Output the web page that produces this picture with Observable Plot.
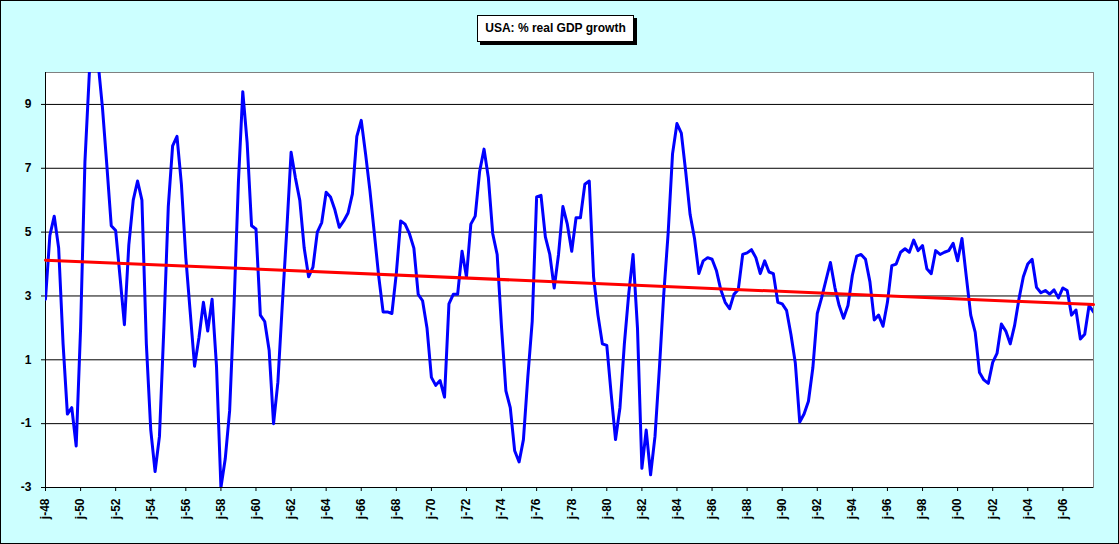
<!DOCTYPE html>
<html><head><meta charset="utf-8">
<script src="https://cdn.jsdelivr.net/npm/d3@7"></script>
<script src="https://cdn.jsdelivr.net/npm/@observablehq/plot@0.6"></script>
<style>
html,body{margin:0;padding:0;background:#CCFFFF;}
#wrap{position:relative;width:1119px;height:544px;overflow:hidden;}
#title{position:absolute;left:477px;top:15px;width:157px;height:27px;box-sizing:border-box;border:1px solid #000;background:#fff;box-shadow:3px 3px 0 #000;font:bold 12px "Liberation Sans",Arial,sans-serif;line-height:25px;text-align:center;white-space:nowrap;}
#frame{position:absolute;left:0;top:0;width:1119px;height:544px;box-sizing:border-box;border:1px solid #000;pointer-events:none;}
svg{display:block;}
</style></head>
<body><div id="wrap"><div id="chart"></div><div id="title">USA: % real GDP growth</div><div id="frame"></div></div>
<script>
// Quarterly series, first value is 1948 Q1
const startYear = 1948;
const growth = [
  2.9, 4.9, 5.5, 4.5, 1.5, -0.7, -0.5, -1.7,            // 1948-49
  2.0, 7.2, 9.95, 12.0, 10.3, 8.9, 7.1, 5.2,            // 1950-51
  5.05, 3.6, 2.1, 4.6, 6.0, 6.6, 6.0, 1.5,              // 1952-53
  -1.2, -2.5, -1.4, 2.0, 5.8, 7.7, 8.0, 6.5,            // 1954-55
  4.2, 2.5, 0.8, 1.7, 2.8, 1.9, 2.9, 0.8,               // 1956-57
  -3.0, -2.1, -0.6, 2.7, 6.6, 9.4, 7.8, 5.2,            // 1958-59
  5.1, 2.4, 2.2, 1.3, -1.0, 0.3, 2.7, 5.0,              // 1960-61
  7.5, 6.7, 6.0, 4.5, 3.6, 3.9, 5.0, 5.3,               // 1962-63
  6.25, 6.1, 5.7, 5.15, 5.35, 5.6, 6.2, 8.0,            // 1964-65
  8.5, 7.45, 6.3, 4.95, 3.6, 2.5, 2.5, 2.45,            // 1966-67
  3.7, 5.35, 5.25, 4.95, 4.5, 3.05, 2.85, 2.0,          // 1968-69
  0.45, 0.2, 0.35, -0.17, 2.75, 3.05, 3.05, 4.4,        // 1970-71
  3.6, 5.25, 5.5, 6.9, 7.6, 6.7, 4.95, 4.3,             // 1972-73
  2.0, 0.03, -0.5, -1.85, -2.2, -1.5, 0.45, 2.2,        // 1974-75
  6.1, 6.15, 4.85, 4.3, 3.25, 4.3, 5.8, 5.25,           // 1976-77
  4.4, 5.45, 5.45, 6.5, 6.6, 3.6, 2.4, 1.5,             // 1978-79
  1.45, -0.07, -1.5, -0.5, 1.5, 3.05, 4.3, 2.0,         // 1980-81
  -2.4, -1.2, -2.6, -1.4, 0.75, 3.05, 4.95, 7.45,       // 1982-83
  8.4, 8.1, 6.9, 5.55, 4.8, 3.7, 4.1, 4.2,              // 1984-85
  4.15, 3.8, 3.2, 2.8, 2.6, 3.05, 3.2, 4.3,             // 1986-87
  4.35, 4.45, 4.2, 3.7, 4.1, 3.75, 3.7, 2.8,            // 1988-89
  2.75, 2.55, 1.8, 0.9, -0.95, -0.7, -0.3, 0.75,        // 1990-91
  2.45, 2.95, 3.5, 4.05, 3.27, 2.7, 2.3, 2.7,           // 1992-93
  3.65, 4.25, 4.3, 4.15, 3.45, 2.25, 2.4, 2.05,         // 1994-95
  2.8, 3.95, 4.0, 4.37, 4.48, 4.37, 4.75, 4.42,         // 1996-97
  4.58, 3.85, 3.7, 4.42, 4.3, 4.37, 4.42, 4.65,         // 1998-99
  4.1, 4.8, 3.6, 2.4, 1.87, 0.6, 0.37, 0.26,            // 2000-01
  0.92, 1.2, 2.12, 1.9, 1.5, 2.07, 2.9, 3.6,            // 2002-03
  4.0, 4.15, 3.27, 3.1, 3.17, 3.06, 3.19, 2.94,         // 2004-05
  3.25, 3.17, 2.4, 2.56, 1.65, 1.8, 2.7, 2.5            // 2006-07
];
// linear trend, value at first and last quarter
const trendValues = [4.12, 2.73];
const yTicks = [-3, -1, 1, 3, 5, 7, 9];
const tickYears = [1948,1950,1952,1954,1956,1958,1960,1962,1964,1966,1968,1970,1972,1974,1976,1978,
  1980,1982,1984,1986,1988,1990,1992,1994,1996,1998,2000,2002,2004,2006];

const data = growth.map((v, i) => ({date: new Date(Date.UTC(startYear, 3 * i, 1)), value: v}));
const x0 = data[0].date, x1 = data[data.length - 1].date;
const trend = [{date: x0, value: trendValues[0]}, {date: x1, value: trendValues[1]}];
const tickDates = tickYears.map(y => new Date(Date.UTC(y, 0, 1)));

const plot = Plot.plot({
  width: 1119, height: 544,
  marginLeft: 45, marginRight: 26, marginTop: 72, marginBottom: 57,
  style: {background: "#CCFFFF", fontFamily: '"Liberation Sans", Arial, sans-serif', fontSize: "12px", fontWeight: "bold", color: "#000"},
  x: {type: "utc", domain: [x0, x1]},
  y: {domain: [-3, 10]},
  marks: [
    Plot.frame({fill: "white", stroke: "#808080"}),
    Plot.ruleY(yTicks.slice(1), {stroke: "black", strokeWidth: 1}),
    Plot.axisY({ticks: yTicks, tickFormat: d => String(d), tickSize: 4, tickPadding: 10, label: null, strokeOpacity: 1}),
    Plot.axisX({ticks: tickDates, tickFormat: d => "j-" + String(d.getUTCFullYear()).slice(2), tickRotate: -90, tickSize: 4, tickPadding: 7, label: null, strokeOpacity: 1}),
    Plot.ruleX([x0], {stroke: "black"}),
    Plot.ruleY([-3], {stroke: "black"}),
    Plot.line(data, {x: "date", y: "value", stroke: "#0000FF", strokeWidth: 3, clip: true}),
    Plot.line(trend, {x: "date", y: "value", stroke: "#FF0000", strokeWidth: 3})
  ]
});
document.getElementById("chart").appendChild(plot);
</script>
</body></html>
